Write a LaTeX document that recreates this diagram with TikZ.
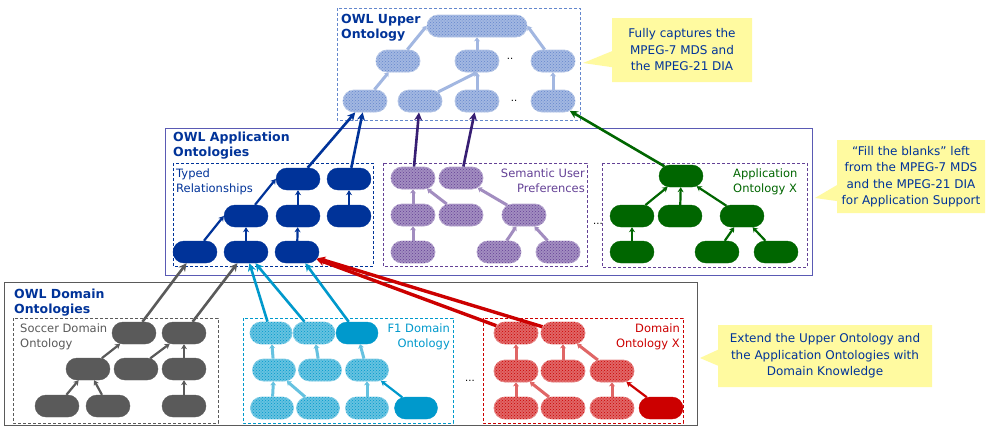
\documentclass[tikz,border=0pt]{standalone}
\usepackage{fontspec}
\setmainfont{DejaVu Sans}
\usetikzlibrary{arrows.meta,positioning,shapes.misc,shapes.callouts,patterns}

\definecolor{owlnavy}{RGB}{0,51,153}
\definecolor{upblue}{RGB}{100,135,205}
\definecolor{appframe}{RGB}{90,90,180}
\definecolor{prefpurple}{RGB}{100,65,150}
\definecolor{prefdark}{RGB}{55,30,115}
\definecolor{appgreen}{RGB}{0,102,0}
\definecolor{soccergray}{RGB}{90,90,90}
\definecolor{fonecyan}{RGB}{0,153,204}
\definecolor{domred}{RGB}{204,0,0}
\definecolor{notebg}{RGB}{255,250,160}

\begin{document}
\begin{tikzpicture}[
  x=1pt, y=-1pt,
  cls/.style={draw=#1, fill=#1, rounded rectangle, minimum width=44pt, minimum height=22pt, inner sep=0pt},
  pcls/.style={draw=#1!45, line width=0.8pt, fill=#1!60, rounded rectangle, minimum width=44pt, minimum height=22pt, inner sep=0pt,
    postaction={pattern=crosshatch dots, pattern color=#1}},
  sub/.style={-{Stealth[length=5pt,width=6pt]}, line width=2.2pt, #1},
  psub/.style={-{Stealth[length=4pt,width=6pt]}, line width=3pt, #1!60},
  link/.style={-{Stealth[length=8pt,width=8pt]}, line width=2.6pt, #1},
  frame/.style={draw=#1, dash pattern=on 3pt off 2pt, line width=0.7pt},
  ttl/.style={font=\bfseries\fontsize{12.5}{15}\selectfont, text=owlnavy, align=left, anchor=north west, inner sep=0pt},
  sublbl/.style={font=\fontsize{11.5}{15}\selectfont, text=#1, inner sep=0pt},
  dots/.style={font=\fontsize{10}{10}\selectfont, inner sep=0pt},
  note/.style={rectangle callout, fill=notebg, draw=none, text=owlnavy, align=center,
    font=\fontsize{12}{16.5}\selectfont, inner sep=0pt, callout pointer width=16pt}
]
\useasboundingbox (0,0) rectangle (986,426);
\fill[white] (0,0) rectangle (986,426);

% upper ontology
\draw[frame=upblue] (337,8) rectangle (580,120);
\node[ttl] (uptitle) at (341,14) {OWL Upper\\Ontology};
\node[pcls=upblue, minimum width=100pt] (u0) at (477,26) {};
\node[pcls=upblue] (u1) at (398,61) {};
\node[pcls=upblue] (u2) at (477,61) {};
\node[pcls=upblue] (u3) at (553,61) {};
\node[pcls=upblue] (u4) at (365,101) {};
\node[pcls=upblue] (u5) at (420,101) {};
\node[pcls=upblue] (u6) at (477,101) {};
\node[pcls=upblue] (u7) at (553,101) {};
\node[dots] (udots1) at (510,59) {..};
\node[dots] (udots2) at (514,101) {..};
\draw[psub=upblue] (u4) -- (u1);
\draw[psub=upblue] (u1) -- (u0.west);
\draw[psub=upblue] (u5) -- (u2.south);
\draw[psub=upblue] (u6) -- (u2);
\draw[psub=upblue] (u2) -- (u0);
\draw[psub=upblue] (u7) -- (u3);
\draw[psub=upblue] (u3) -- (u0.east);

% application ontologies
\draw[appframe, line width=0.8pt] (165,128) rectangle (812,275);
\node[ttl] (apptitle) at (173,132) {OWL Application\\Ontologies};

% typed relationships
\draw[frame=owlnavy] (173,163) rectangle (373,266);
\node[sublbl=owlnavy, anchor=north west, align=left] (typlbl) at (176,169) {Typed\\Relationships};
\node[cls=owlnavy] (a0) at (195,252) {};
\node[cls=owlnavy] (a1) at (246,252) {};
\node[cls=owlnavy] (a2) at (297,252) {};
\node[cls=owlnavy] (a3) at (246,216) {};
\node[cls=owlnavy] (a4) at (298,216) {};
\node[cls=owlnavy] (a5) at (349,216) {};
\node[cls=owlnavy] (a6) at (298,179) {};
\node[cls=owlnavy] (a7) at (349,179) {};
\draw[sub=owlnavy] (a0) -- (a3.west);
\draw[sub=owlnavy] (a1) -- (a3);
\draw[sub=owlnavy] (a2) -- (a4);
\draw[sub=owlnavy] (a3) -- (a6.west);
\draw[sub=owlnavy] (a4) -- (a6);
\draw[sub=owlnavy] (a5) -- (a7);
\draw[link=owlnavy] (a6) -- (u4);
\draw[link=owlnavy] (a7) -- (u4);

% semantic user preferences
\draw[frame=prefpurple] (383,163) rectangle (587,266);
\node[sublbl=prefpurple, anchor=north east, align=right] (preflbl) at (585,169) {Semantic User\\Preferences};
\node[pcls=prefpurple] (s0) at (413,252) {};
\node[pcls=prefpurple] (s1) at (499,252) {};
\node[pcls=prefpurple] (s2) at (558,252) {};
\node[pcls=prefpurple] (s3) at (413,215) {};
\node[pcls=prefpurple] (s4) at (461,215) {};
\node[pcls=prefpurple] (s5) at (524,215) {};
\node[pcls=prefpurple] (s6) at (413,178) {};
\node[pcls=prefpurple] (s7) at (461,178) {};
\draw[psub=prefpurple] (s0) -- (s3);
\draw[psub=prefpurple] (s1) -- (s5);
\draw[psub=prefpurple] (s2) -- (s5);
\draw[psub=prefpurple] (s3) -- (s6);
\draw[psub=prefpurple] (s4) -- (s6);
\draw[psub=prefpurple] (s5) -- (s7);
\draw[link=prefdark] (s6) -- (u5);
\draw[link=prefdark] (s7) -- (u6);

\node[dots] (appdots) at (598,224) {...};

% application ontology x
\draw[frame=prefpurple] (602,163) rectangle (807,267);
\node[sublbl=appgreen, anchor=north west, align=left] (greenlbl) at (733,169) {Application\\Ontology X};
\node[cls=appgreen] (g0) at (632,252) {};
\node[cls=appgreen] (g1) at (717,252) {};
\node[cls=appgreen] (g2) at (776,252) {};
\node[cls=appgreen] (g3) at (632,216) {};
\node[cls=appgreen] (g4) at (680,216) {};
\node[cls=appgreen] (g5) at (742,216) {};
\node[cls=appgreen] (g6) at (681,176) {};
\draw[sub=appgreen] (g0) -- (g3);
\draw[sub=appgreen] (g1) -- (g5);
\draw[sub=appgreen] (g2) -- (g5);
\draw[sub=appgreen] (g3) -- (g6);
\draw[sub=appgreen] (g4) -- (g6);
\draw[sub=appgreen] (g5) -- (g6);
\draw[link=appgreen] (g6) -- (u7);

% domain ontologies
\draw[soccergray, line width=0.8pt] (4,282) rectangle (697,425.5);
\node[ttl] (domtitle) at (14,289) {OWL Domain\\Ontologies};

% soccer
\draw[frame=soccergray] (13,318) rectangle (218,423);
\node[sublbl=soccergray, anchor=north west, align=left] (soclbl) at (20,324) {Soccer Domain\\Ontology};
\node[cls=soccergray] (c0) at (57,406) {};
\node[cls=soccergray] (c1) at (108,406) {};
\node[cls=soccergray] (c2) at (184,406) {};
\node[cls=soccergray] (c3) at (88,369) {};
\node[cls=soccergray] (c4) at (136,369) {};
\node[cls=soccergray] (c5) at (184,369) {};
\node[cls=soccergray] (c6) at (134,333) {};
\node[cls=soccergray] (c7) at (184,333) {};
\draw[sub=soccergray] (c0) -- (c3);
\draw[sub=soccergray] (c1) -- (c3);
\draw[sub=soccergray] (c2) -- (c5);
\draw[sub=soccergray] (c3) -- (c6);
\draw[sub=soccergray] (c4) -- (c7);
\draw[sub=soccergray] (c5) -- (c7);
\draw[link=soccergray] (c6) -- (a0);
\draw[link=soccergray] (c7) -- (a1);

% f1
\draw[frame=fonecyan] (243,318) rectangle (453,423);
\node[sublbl=fonecyan, anchor=north east, align=right] (f1lbl) at (450,324) {F1 Domain\\Ontology};
\node[pcls=fonecyan, minimum width=43pt] (f0) at (272,408) {};
\node[pcls=fonecyan, minimum width=43pt] (f1) at (318,408) {};
\node[pcls=fonecyan, minimum width=43pt] (f2) at (367,408) {};
\node[cls=fonecyan, minimum width=43pt] (f3) at (416,408) {};
\node[pcls=fonecyan, minimum width=43pt] (f4) at (274,370) {};
\node[pcls=fonecyan, minimum width=43pt] (f5) at (320,370) {};
\node[pcls=fonecyan, minimum width=43pt] (f6) at (367,370) {};
\node[pcls=fonecyan, minimum width=42pt] (f7) at (271,333) {};
\node[pcls=fonecyan, minimum width=42pt] (f8) at (314,333) {};
\node[cls=fonecyan, minimum width=42pt] (f9) at (357,333) {};
\draw[psub=fonecyan] (f0) -- (f4);
\draw[psub=fonecyan] (f1) -- (f4);
\draw[psub=fonecyan] (f2) -- (f6);
\draw[sub=fonecyan] (f3) -- (f6);
\draw[psub=fonecyan] (f4) -- (f7);
\draw[psub=fonecyan] (f5) -- (f8);
\draw[psub=fonecyan] (f6) -- (f9);
\draw[link=fonecyan] (f7) -- (a1);
\draw[link=fonecyan] (f8) -- (a1);
\draw[link=fonecyan] (f9) -- (a2);

\node[dots] (domdots) at (470,381) {...};

% domain ontology x
\draw[frame=domred] (483,318) rectangle (683,423);
\node[sublbl=domred, anchor=north east, align=right] (redlbl) at (680,324) {Domain\\Ontology X};
\node[pcls=domred] (d0) at (516,408) {};
\node[pcls=domred] (d1) at (563,408) {};
\node[pcls=domred] (d2) at (612,408) {};
\node[cls=domred] (d3) at (661,408) {};
\node[pcls=domred] (d4) at (516,371) {};
\node[pcls=domred] (d5) at (563,371) {};
\node[pcls=domred] (d6) at (612,371) {};
\node[pcls=domred] (d7) at (516,333) {};
\node[pcls=domred] (d8) at (563,333) {};
\draw[psub=domred] (d0) -- (d4);
\draw[psub=domred] (d1) -- (d4);
\draw[psub=domred] (d2) -- (d6);
\draw[sub=domred] (d3) -- (d6);
\draw[psub=domred] (d4) -- (d7);
\draw[psub=domred] (d5) -- (d8);
\draw[psub=domred] (d6) -- (d8);
\draw[link=domred, line width=3.4pt] (d7) -- (a2);
\draw[link=domred, line width=3.4pt] (d8) -- (a2);

% notes
\node[note, minimum width=140pt, minimum height=64pt, callout absolute pointer={(583,63)}] (note1) at (682,50)
  {Fully captures the\\MPEG-7 MDS and\\the MPEG-21 DIA};
\node[note, minimum width=148pt, minimum height=73pt, callout absolute pointer={(815,198)}] (note2) at (911,176.5)
  {“Fill the blanks” left\\from the MPEG-7 MDS\\and the MPEG-21 DIA\\for Application Support};
\node[note, minimum width=214pt, minimum height=62pt, callout absolute pointer={(700,358)}] (note3) at (825,356)
  {Extend the Upper Ontology and\\the Application Ontologies with\\Domain Knowledge};
\end{tikzpicture}
\end{document}
